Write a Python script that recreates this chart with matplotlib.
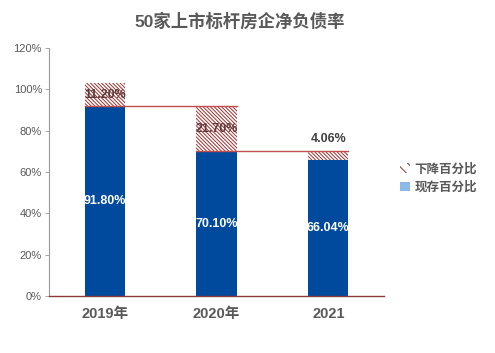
import matplotlib
matplotlib.use('Agg')

import matplotlib.pyplot as plt
from matplotlib.patches import Patch
import numpy as np

plt.rcParams['font.family'] = ['Liberation Sans', 'Noto Sans CJK SC']
plt.rcParams['hatch.linewidth'] = 0.7

years = ["2019年", "2020年", "2021"]
remain = [91.80, 70.10, 66.04]   # 现存百分比
drop = [11.20, 21.70, 4.06]      # 下降百分比

BLUE = "#004a9e"
RED = "#a03030"
GRAY = "#595959"

fig = plt.figure(figsize=(4.95, 3.53), dpi=100)
ax = fig.add_axes([0.099, 0.1615, 0.677, 0.7025])

x = np.arange(len(years))
w = 0.36
ax.bar(x, remain, w, color=BLUE, zorder=2)
ax.bar(x, drop, w, bottom=remain, color="white", edgecolor=RED,
       hatch="\\" * 9, linewidth=0, zorder=2)

# connector lines between tops
for i in range(len(years) - 1):
    ax.plot([x[i] - w / 2, x[i + 1] + w / 2], [remain[i]] * 2,
            color="#c0504d", lw=1, zorder=3)

for i in range(len(years)):
    ax.text(x[i], remain[i] / 2, f"{remain[i]:.2f}%", ha="center", va="center",
            color="white", fontsize=9, fontweight="bold", zorder=4)
    if drop[i] > 8:
        ax.text(x[i], remain[i] + drop[i] / 2, f"{drop[i]:.2f}%", ha="center",
                va="center", color="#5a3a3a", fontsize=9, fontweight="bold", zorder=4)
    else:
        ax.text(x[i], remain[i] + drop[i] + 3, f"{drop[i]:.2f}%", ha="center",
                va="bottom", color="#404040", fontsize=9, fontweight="bold", zorder=4)

ax.set_xlim(-0.5, len(years) - 0.5)
ax.set_ylim(0, 120)
ax.set_yticks(np.arange(0, 121, 20))
ax.set_yticklabels([f"{v}%" for v in range(0, 121, 20)], fontsize=8, color=GRAY)
ax.set_xticks(x)
ax.set_xticklabels(years, fontsize=10.5, fontweight="bold", color=GRAY)

for s in ["top", "right"]:
    ax.spines[s].set_visible(False)
ax.spines["left"].set_linestyle((0, (1, 1)))
ax.spines["left"].set_color("#999999")
ax.spines["left"].set_linewidth(0.8)
ax.spines["bottom"].set_color("#8b3a3a")
ax.spines["bottom"].set_linewidth(1)
ax.tick_params(axis="y", length=3, color="#999999", width=0.6, pad=2)
ax.tick_params(axis="x", length=0, pad=8)

handles = [Patch(facecolor="white", edgecolor=RED, hatch="\\\\\\", linewidth=0, label="下降百分比"),
           Patch(facecolor="#8db8e8", label="现存百分比")]
fig.legend(handles=handles, loc="upper left", bbox_to_anchor=(0.785, 0.57),
           frameon=False, handlelength=0.8, handleheight=0.8,
           handletextpad=0.4, labelspacing=0.5, labelcolor=GRAY,
           prop={"weight": "bold", "size": 9})

fig.text(0.485, 0.94, "50家上市标杆房企净负债率", ha="center", va="center",
         fontsize=12.5, fontweight="bold", color=GRAY)

fig.savefig("out.png", dpi=100)
